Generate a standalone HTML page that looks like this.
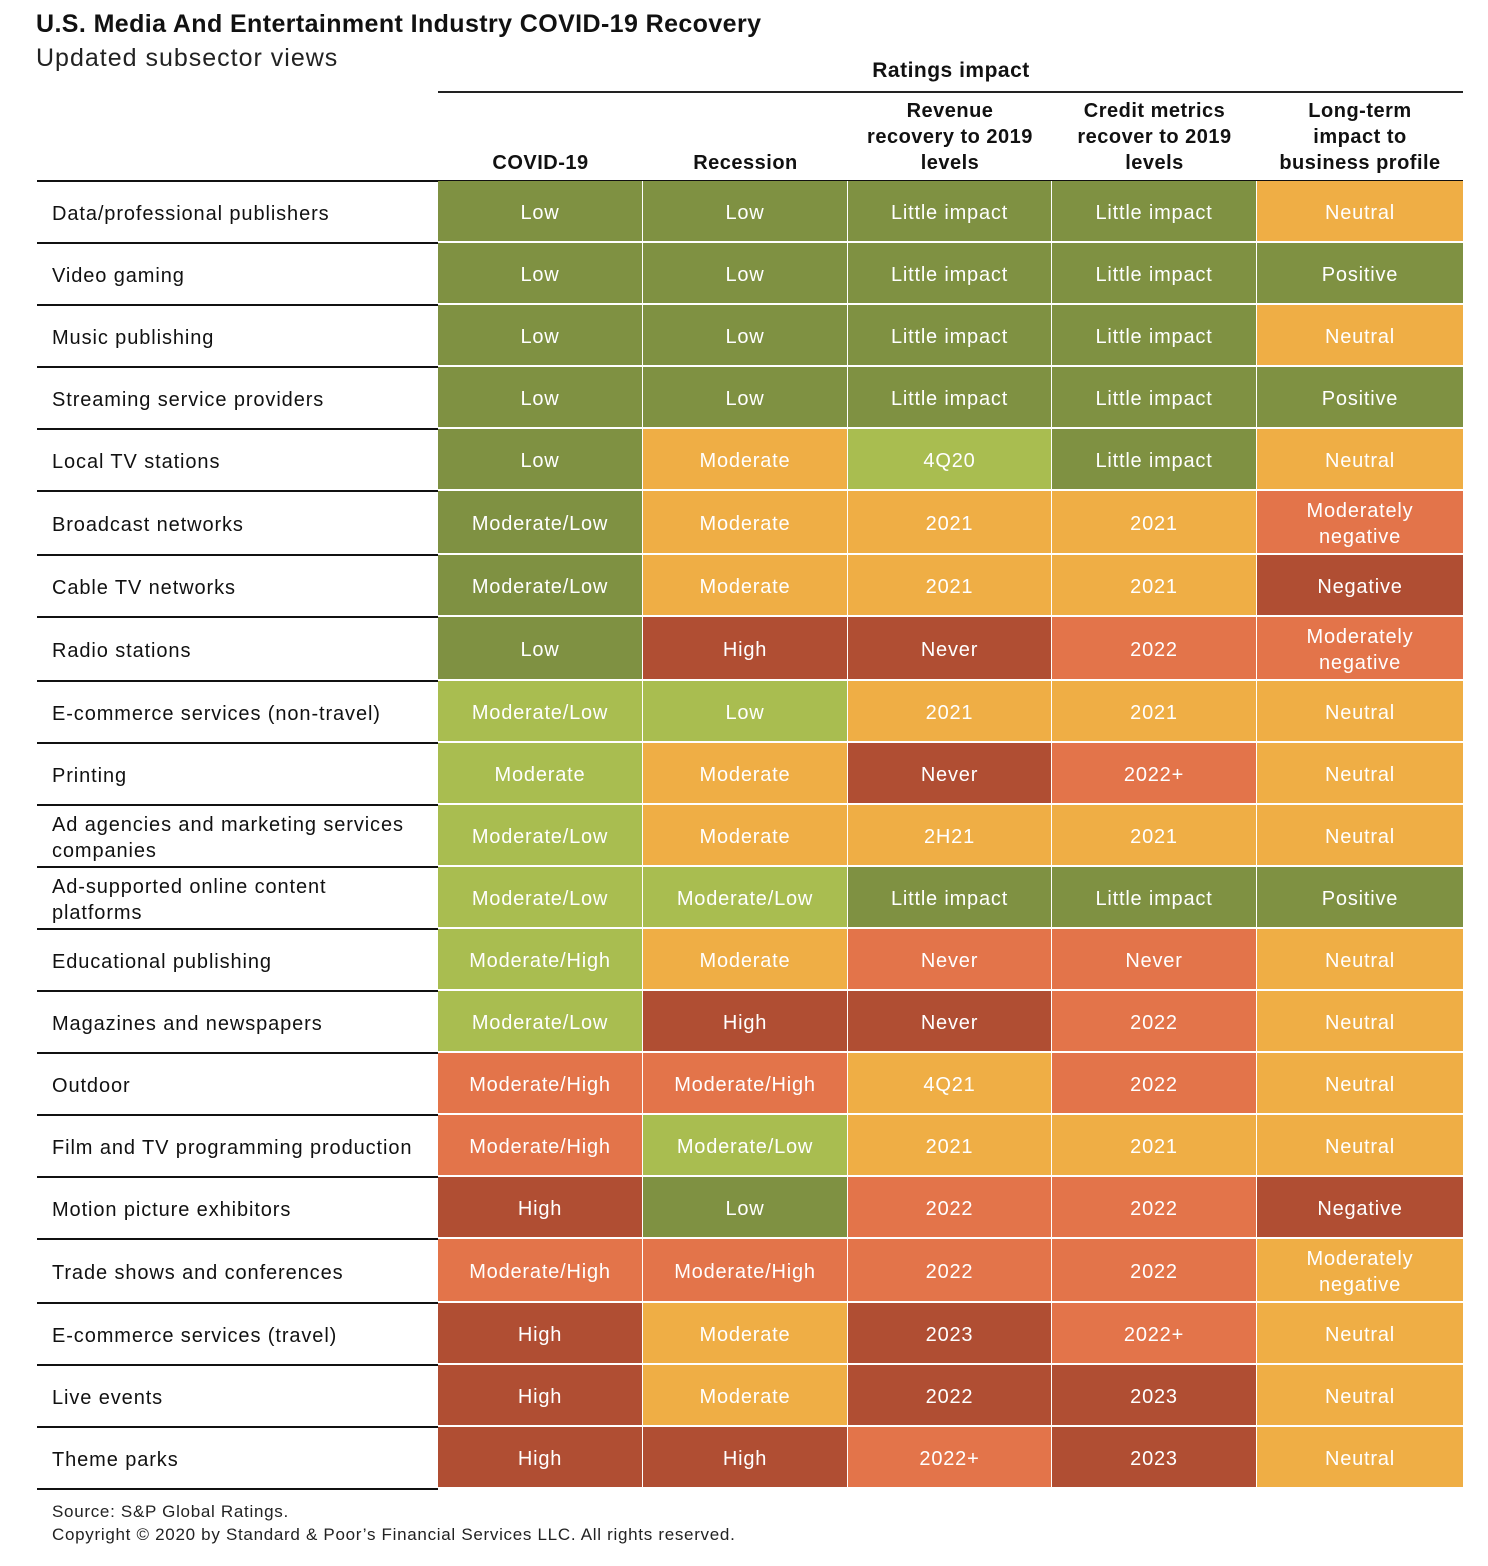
<!DOCTYPE html>
<html><head><meta charset="utf-8"><style>
body{margin:0;width:1488px;height:1566px;background:#fff;font-family:"Liberation Sans",sans-serif;position:relative;overflow:hidden}
.a{position:absolute}
.h{font-weight:bold;font-size:20px;color:#111;text-align:center;line-height:26px;letter-spacing:0.5px}
.c{position:absolute;color:#fff;font-size:20px;display:flex;align-items:center;justify-content:center;text-align:center;line-height:26px;box-sizing:border-box;border-right:2px solid #fff;border-bottom:2px solid #fff;letter-spacing:0.8px;padding-top:3px}
.l{position:absolute;left:52px;width:385px;font-size:20px;color:#111;display:flex;align-items:center;line-height:26px;letter-spacing:0.9px;box-sizing:border-box;padding-top:3px;white-space:pre-line}
.ln{position:absolute;left:37px;width:401px;height:1.5px;background:#111}
</style></head><body>
<div class="a" style="left:36px;top:10px;font-size:25px;font-weight:bold;color:#111;letter-spacing:0.4px">U.S. Media And Entertainment Industry COVID-19 Recovery</div>
<div class="a" style="left:36px;top:44px;font-size:25px;color:#222;letter-spacing:1px">Updated subsector views</div>
<div class="a h" style="left:848px;width:206px;top:58px;font-size:21px">Ratings impact</div>
<div class="a" style="left:438px;top:91px;width:1025px;height:2px;background:#222"></div>
<div class="a h" style="left:438px;width:205px;top:150px">COVID-19</div>
<div class="a h" style="left:643px;width:205px;top:150px">Recession</div>
<div class="a h" style="left:848px;width:204px;top:98px">Revenue<br>recovery to 2019<br>levels</div>
<div class="a h" style="left:1052px;width:205px;top:98px">Credit metrics<br>recover to 2019<br>levels</div>
<div class="a h" style="left:1257px;width:206px;top:98px">Long-term<br>impact to<br>business profile</div>
<div class="a" style="left:37px;top:180px;width:1426px;height:2px;background:#111"></div>
<div id="tbl"></div>
<div class="a" style="left:52px;top:1500px;font-size:17px;color:#222;line-height:23px;letter-spacing:0.7px">Source: S&amp;P Global Ratings.<br>Copyright © 2020 by Standard &amp; Poor’s Financial Services LLC. All rights reserved.</div>
<script>
const subsectors=["Data/professional publishers","Video gaming","Music publishing","Streaming service providers","Local TV stations","Broadcast networks","Cable TV networks","Radio stations","E-commerce services (non-travel)","Printing","Ad agencies and marketing services\ncompanies","Ad-supported online content\nplatforms","Educational publishing","Magazines and newspapers","Outdoor","Film and TV programming production","Motion picture exhibitors","Trade shows and conferences","E-commerce services (travel)","Live events","Theme parks"];
const covid=["Low","Low","Low","Low","Low","Moderate/Low","Moderate/Low","Low","Moderate/Low","Moderate","Moderate/Low","Moderate/Low","Moderate/High","Moderate/Low","Moderate/High","Moderate/High","High","Moderate/High","High","High","High"];
const recession=["Low","Low","Low","Low","Moderate","Moderate","Moderate","High","Low","Moderate","Moderate","Moderate/Low","Moderate","High","Moderate/High","Moderate/Low","Low","Moderate/High","Moderate","Moderate","High"];
const revenue=["Little impact","Little impact","Little impact","Little impact","4Q20","2021","2021","Never","2021","Never","2H21","Little impact","Never","Never","4Q21","2021","2022","2022","2023","2022","2022+"];
const credit=["Little impact","Little impact","Little impact","Little impact","Little impact","2021","2021","2022","2021","2022+","2021","Little impact","Never","2022","2022","2021","2022","2022","2022+","2023","2023"];
const longterm=["Neutral","Positive","Neutral","Positive","Neutral","Moderately negative","Negative","Moderately negative","Neutral","Neutral","Neutral","Positive","Neutral","Neutral","Neutral","Neutral","Negative","Moderately negative","Neutral","Neutral","Neutral"];
// color codes per cell: G dark green, L light green, Y yellow, O orange, R red
const covidC="GGGGGGGGLLLLLLOORORRR";
const recC="GGGGYYYRLYYLYROLGOYYR";
const revC="GGGGLYYRYRYGORYYOORRO";
const credC="GGGGGYYOYOYGOOOYOOORR";
const longC="YGYGYORO"+"YYYG"+"YYYY"+"R"+"Y"+"YYY";
const pal={G:"#7f9142",L:"#a9bd50",Y:"#efae45",O:"#e3744a",R:"#b04e33"};
const rowTops=[181,243,305,367,429,491,555,617,681,743,805,867,929,991,1053,1115,1177,1239,1303,1365,1427,1489];
const colX=[438,643,848,1052,1257,1463];
const tbl=document.getElementById('tbl');
const cols=[covid,recession,revenue,credit,longterm];
const colC=[covidC,recC,revC,credC,longC];
const colNames=['covid','recession','revenue','credit','longterm'];
subsectors.forEach((s,i)=>{
  const t=rowTops[i],h=rowTops[i+1]-t;
  const lb=document.createElement('div');lb.className='l';
  lb.style.top=t+'px';lb.style.height=h+'px';lb.textContent=s;
  
  
  tbl.appendChild(lb);
  const ln=document.createElement('div');ln.className='ln';ln.style.top=(rowTops[i+1]-1)+'px';
  
  
  tbl.appendChild(ln);
  cols.forEach((col,j)=>{
    const c=document.createElement('div');c.className='c';
    c.style.left=colX[j]+'px';c.style.width=(colX[j+1]-colX[j]+(j==4?0:1))+'px';
    c.style.top=t+'px';c.style.height=h+'px';
    if(j==4)c.style.borderRight='none';
    c.style.background=pal[colC[j][i]];
    let v=col[i];if(v==="Moderately negative")v="Moderately<br>negative";
    c.innerHTML=v;
    
    
    tbl.appendChild(c);
  });
});
</script>
</body></html>
